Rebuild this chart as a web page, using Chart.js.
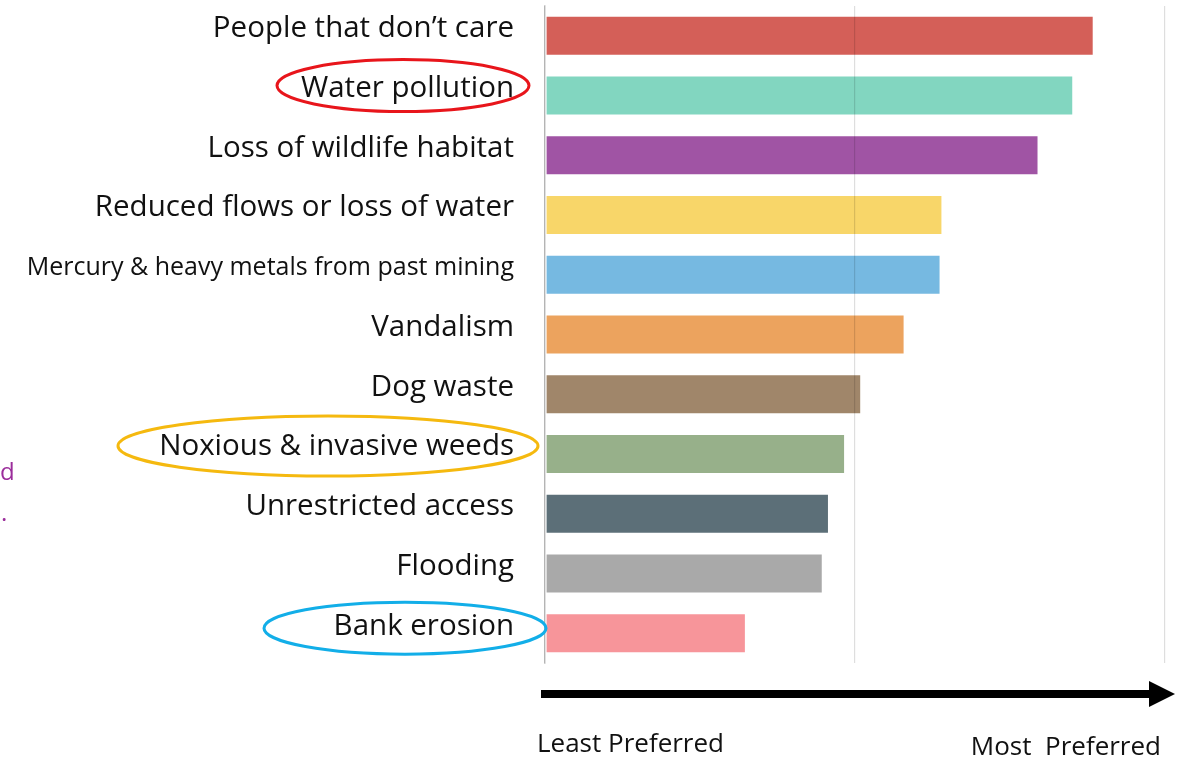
<!DOCTYPE html>
<html>
<head>
<meta charset="utf-8">
<script src="https://cdn.jsdelivr.net/npm/chart.js@4.4.1/dist/chart.umd.min.js"></script>
<style>
html,body{margin:0;padding:0;background:#fff;}
#wrap{position:relative;width:1191px;height:759px;}
</style>
</head>
<body>
<div id="wrap"><canvas id="c" width="1191" height="759"></canvas></div>
<script>
const categories = [
  "People that don\u2019t care",
  "Water pollution",
  "Loss of wildlife habitat",
  "Reduced flows or loss of water",
  "Mercury & heavy metals from past mining",
  "Vandalism",
  "Dog waste",
  "Noxious & invasive weeds",
  "Unrestricted access",
  "Flooding",
  "Bank erosion"
];
const preferenceScores = [88.5, 85.2, 79.6, 64.1, 63.8, 58.0, 51.0, 48.4, 45.8, 44.8, 32.4];
const barColors = ["#d45f58","#82d6c0","#a054a4","#f8d669","#76b9e1","#eca35e","#a0866a","#97b08a","#5c6f78","#a9a9a9","#f7959a"];
const xTicks = [0, 50, 100];
const circled = [
  {index: 1, color: "#e8151b", cx: 403, dy: -10, rx: 126, ry: 26},
  {index: 7, color: "#f5b90f", cx: 328, dy: -8, rx: 210, ry: 30},
  {index: 10, color: "#12aee8", cx: 405, dy: -5, rx: 141, ry: 26}
];
const axisLeftText = "Least Preferred";
const axisRightText = "Most  Preferred";

const FONT = "'Open Sans', 'Noto Sans', sans-serif";

const overlay = {
  id: 'overlay',
  afterDraw(chart) {
    const ctx = chart.ctx;
    const y = chart.scales.y;
    ctx.save();
    circled.forEach(c => {
      const cy = y.getPixelForValue(c.index) + c.dy;
      ctx.beginPath();
      ctx.ellipse(c.cx, cy, c.rx, c.ry, 0, 0, Math.PI * 2);
      ctx.strokeStyle = c.color;
      ctx.lineWidth = 3;
      ctx.stroke();
    });
    const ay = 694;
    const x0 = 541, x1 = 1175;
    ctx.fillStyle = "#000";
    ctx.fillRect(x0, ay - 4, x1 - 22 - x0, 8);
    ctx.beginPath();
    ctx.moveTo(x1 - 26, ay - 13);
    ctx.lineTo(x1, ay);
    ctx.lineTo(x1 - 26, ay + 13);
    ctx.closePath();
    ctx.fill();
    ctx.font = "26px " + FONT;
    ctx.textBaseline = "middle";
    ctx.textAlign = "left";
    ctx.fillStyle = "#111";
    ctx.fillText(axisLeftText, 537, 745);
    ctx.textAlign = "right";
    ctx.fillText(axisRightText, 1161, 748);
    ctx.textAlign = "left";
    ctx.textBaseline = "alphabetic";
    ctx.fillStyle = "#9b2d9b";
    ctx.font = "24px " + FONT;
    ctx.fillText("d", 0, 480);
    ctx.fillText(".", 1, 521);
    ctx.restore();
  }
};

new Chart(document.getElementById('c'), {
  type: 'bar',
  data: {
    labels: categories,
    datasets: [{
      data: preferenceScores,
      backgroundColor: barColors,
      borderColor: "rgba(255,255,255,0.5)",
      borderWidth: 1,
      borderSkipped: false,
      categoryPercentage: 1,
      barPercentage: 0.67
    }]
  },
  options: {
    indexAxis: 'y',
    responsive: false,
    animation: false,
    devicePixelRatio: 1,
    layout: {padding: {top: 6, right: 26, bottom: 96, left: 0}},
    plugins: {legend: {display: false}, tooltip: {enabled: false}},
    scales: {
      x: {
        min: 0, max: 100,
        afterBuildTicks(scale) { scale.ticks = xTicks.map(v => ({value: v})); },
        afterFit(scale) { scale.height = 0; scale.paddingLeft = 0; scale.paddingRight = 0; },
        ticks: {display: false},
        border: {display: false},
        grid: {color: "rgba(0,0,0,0.13)", lineWidth: 1.2, drawTicks: false, z: 1}
      },
      y: {
        afterFit(scale) { scale.width = 545; scale.paddingTop = 0; scale.paddingBottom = 0; },
        border: {display: true, color: "#cfcfcf", width: 1.5},
        grid: {display: false, drawTicks: false},
        ticks: {
          padding: 31,
          labelOffset: -7,
          color: "#111",
          font: (c) => ({family: FONT, size: c.index === 4 ? 25 : 29.5})
        }
      }
    }
  },
  plugins: [overlay]
});
</script>
</body>
</html>
